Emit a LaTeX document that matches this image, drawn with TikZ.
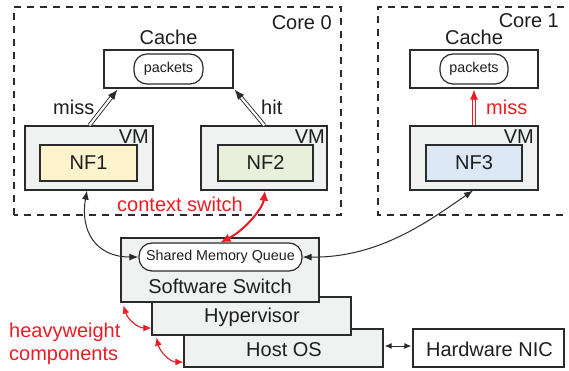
\documentclass[tikz,border=0pt]{standalone}
\usepackage{fontspec}
\setmainfont{Liberation Sans}
\usetikzlibrary{arrows.meta,calc}
\definecolor{lc}{HTML}{2B2B2B}
\definecolor{tc}{HTML}{1E1E1E}
\definecolor{rc}{HTML}{ED1C24}
\definecolor{vmfill}{HTML}{F0F2F1}
\definecolor{nfa}{HTML}{FDF3CC}
\definecolor{nfb}{HTML}{E8F0DC}
\definecolor{nfc}{HTML}{DCE9F5}
\begin{document}
\begin{tikzpicture}[x=1pt,y=1pt,font=\fontsize{20}{24}\selectfont,text=tc,
  box/.style={draw=lc,line width=1.2pt,fill=vmfill,inner sep=0pt},
  wbox/.style={draw=lc,line width=1.2pt,fill=white,inner sep=0pt},
  pill/.style={draw=lc,line width=1.2pt,fill=white,rounded corners=13pt,inner sep=0pt,font=\fontsize{14.3}{16}\selectfont},
  corebox/.style={draw=lc,line width=1.1pt,dash pattern=on 7pt off 6pt},
  conn/.style={draw=lc,line width=1pt,{Latex[length=9pt,width=7pt]}-{Latex[length=9pt,width=7pt]}},
  rconn/.style={draw=rc,line width=2pt,{Latex[length=10pt,width=9pt]}-{Latex[length=10pt,width=9pt]}},
  rsmall/.style={draw=rc,line width=1.1pt,{Latex[length=8pt,width=7pt]}-{Latex[length=8pt,width=7pt]}},
  dbl/.style={double=white,double distance=2.2pt,line width=0.9pt,shorten >=9pt},
  tipa/.style={-{Latex[length=10pt,width=8pt]},line width=0.9pt},
  lbl/.style={anchor=base,inner sep=0pt}]
\useasboundingbox (0,0) rectangle (569,370);
\fill[white] (0,0) rectangle (569,370);

% core regions
\draw[corebox] (14,155) rectangle (341,363);
\draw[corebox] (590,363) -| (378,155) -- (590,155);
\node[lbl,anchor=base east] (core0) at (332,340) {Core 0};
\node[lbl,anchor=base east] (core1) at (559,342) {Core 1};

% caches
\node[wbox,minimum width=129pt,minimum height=38pt] (cache0) at (168.5,301) {};
\node[pill,minimum width=69pt,minimum height=30pt] (pk0) at (168.5,301) {packets};
\node[lbl] (cl0) at (168.5,325) {Cache};
\node[wbox,minimum width=128pt,minimum height=38pt] (cache1) at (474,301) {};
\node[pill,minimum width=68pt,minimum height=30pt] (pk1) at (474,301) {packets};
\node[lbl] (cl1) at (474,325) {Cache};

% VMs
\node[box,minimum width=128pt,minimum height=64pt] (vm1) at (89,212) {};
\node[box,fill=nfa,minimum width=97pt,minimum height=36pt] (nf1) at (88.5,207) {NF1};
\node[lbl,anchor=base east] (vl1) at (149,227) {VM};
\node[box,minimum width=126pt,minimum height=64pt] (vm2) at (264,212) {};
\node[box,fill=nfb,minimum width=95pt,minimum height=36pt] (nf2) at (265.5,207) {NF2};
\node[lbl,anchor=base east] (vl2) at (325,227) {VM};
\node[box,minimum width=128pt,minimum height=64pt] (vm3) at (474,212) {};
\node[box,fill=nfc,minimum width=96pt,minimum height=36pt] (nf3) at (474,207) {NF3};
\node[lbl,anchor=base east] (vl3) at (534,227) {VM};

% stack
\node[box,minimum width=199pt,minimum height=38pt] (host) at (283.5,22) {};
\node[lbl] (hostl) at (284,14) {Host OS};
\node[box,minimum width=199pt,minimum height=38pt] (hyp) at (251.5,54) {};
\node[lbl] (hypl) at (252,48) {Hypervisor};
\node[box,minimum width=198pt,minimum height=64pt] (sw) at (220,100) {};
\node[lbl] (swl) at (220,77) {Software Switch};
\node[pill,minimum width=163pt,minimum height=28pt] (smq) at (220.5,113) {Shared Memory Queue};
\node[wbox,minimum width=151pt,minimum height=38pt] (nic) at (488.5,22) {};
\node[lbl] (nicl) at (489.5,14) {Hardware NIC};

% cache access arrows
\coordinate (m0s) at ($(vm1.north west)+(65,0)$);
\coordinate (m0e) at ($(cache0.south west)+(14,-1)$);
\draw[draw=lc,dbl] (m0s) -- (m0e);
\draw[draw=lc,tipa] ($(m0e)!10pt!(m0s)$) -- (m0e);
\node[lbl,anchor=base west] (missl0) at (53,255) {miss};
\coordinate (h0s) at ($(vm2.north west)+(64,0)$);
\coordinate (h0e) at ($(cache0.south east)+(1,-1)$);
\draw[draw=lc,dbl] (h0s) -- (h0e);
\draw[draw=lc,tipa] ($(h0e)!10pt!(h0s)$) -- (h0e);
\node[lbl,anchor=base west] (hitl) at (261,255) {hit};
\coordinate (m1s) at (vm3.north);
\coordinate (m1e) at ($(cache1.south)+(0,-1)$);
\draw[draw=rc,dbl] (m1s) -- (m1e);
\draw[draw=rc,tipa,fill=rc] ($(m1e)!10pt!(m1s)$) -- (m1e);
\node[lbl,anchor=base west,text=rc] (missl1) at (486,255) {miss};

% queue connections
\draw[conn] ($(vm1.south)+(-2,0)$) .. controls (80,140) and (95,113) .. (smq.west);
\draw[rconn] (smq.north) .. controls (245,140) and (263,162) .. ($(vm2.south)+(1,0)$);
\draw[conn] (smq.east) .. controls (380,112) and (430,150) .. ($(vm3.south)+(-1,0)$);
\node[lbl,anchor=base west,text=rc] (ctx) at (117,159) {context switch};

% heavyweight
\draw[rsmall] ($(sw.south west)+(3,-3)$) .. controls (128,50) and (138,42) .. ($(hyp.west)+(0,-12)$);
\draw[rsmall] ($(hyp.south west)+(5,-2)$) .. controls (160,18) and (170,8) .. ($(host.west)+(0,-14)$);
\node[lbl,anchor=base west,text=rc] (hw1) at (9,33) {heavyweight};
\node[lbl,anchor=base west,text=rc] (hw2) at (9,10) {components};

% NIC link
\draw[draw=lc,line width=1pt,{Latex[length=7pt,width=6pt]}-{Latex[length=7pt,width=6pt]}] ($(host.east)+(1,2)$) -- ($(nic.west)+(-1,2)$);
\end{tikzpicture}
\end{document}
